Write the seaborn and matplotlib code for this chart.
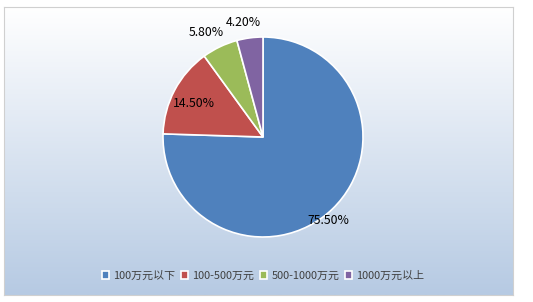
import numpy as np
import matplotlib
matplotlib.use("Agg")
import matplotlib.pyplot as plt
import seaborn as sns

categories = ["100万元以下", "100-500万元", "500-1000万元", "1000万元以上"]
values = [75.5, 14.5, 5.8, 4.2]
labels = ["75.50%", "14.50%", "5.80%", "4.20%"]

sns.set_theme(style="white")
plt.rcParams['font.family'] = ['Noto Sans CJK SC', 'DejaVu Sans']

colors = sns.color_palette(["#4f81bd", "#c0504d", "#9bbb59", "#8064a2"])

W, H = 533, 302
fig = plt.figure(figsize=(W / 100, H / 100), dpi=100)
fig.patch.set_facecolor("white")

# background gradient panel
bg = fig.add_axes([4 / W, 7 / H, 509 / W, 288 / H])
top = np.array([1.0, 1.0, 1.0])
bot = np.array([0xb6, 0xca, 0xe3]) / 255
t = np.linspace(0, 1, 256)[:, None]
grad = (top[None, :] * (1 - t) + bot[None, :] * t)[:, None, :]
bg.imshow(grad, aspect="auto", extent=(0, 1, 0, 1), origin="upper")
bg.set_xticks([]); bg.set_yticks([])
for s in bg.spines.values():
    s.set_color("#d0d0d0"); s.set_linewidth(0.8)

# pie
ax = fig.add_axes([163 / W, (H - 237) / H, 200 / W, 200 / H])
ax.set_facecolor("none")
wedges, _ = ax.pie(values, colors=colors, startangle=90, counterclock=False,
                   wedgeprops=dict(edgecolor="white", linewidth=1.2))
ax.set_xlim(-1, 1); ax.set_ylim(-1, 1)
ax.set_aspect("equal")
ax.axis("off")

label_dist = [1.06, 0.77, 1.19, 1.16]
angle_shift = [-6, 2.5, 3, 2]
for w, lab, d, sh in zip(wedges, labels, label_dist, angle_shift):
    mid = np.deg2rad((w.theta1 + w.theta2) / 2 + sh)
    ax.text(d * np.cos(mid), d * np.sin(mid), lab, ha="center", va="center",
            fontsize=8.8, color="black", clip_on=False)

leg = fig.legend(wedges, categories, loc="center", ncol=4,
                 bbox_to_anchor=(263 / W, 1 - 276 / H), frameon=False,
                 fontsize=7.9, handlelength=0.7, handleheight=0.7,
                 handletextpad=0.35, columnspacing=0.5, labelcolor="#404040")
for h in leg.legend_handles:
    h.set_edgecolor("white")

fig.savefig("out.png", dpi=100, facecolor="white")
